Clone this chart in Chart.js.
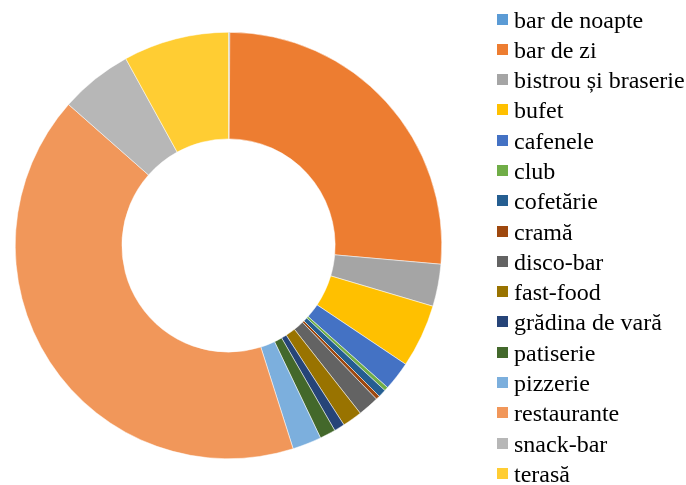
<!DOCTYPE html>
<html>
<head>
<meta charset="utf-8">
<script src="https://cdn.jsdelivr.net/npm/chart.js@4"></script>
<style>
  html, body { margin: 0; padding: 0; background: #fff; }
  #wrap { position: relative; width: 686px; height: 485px; }
  #chart { position: absolute; left: 0; top: 0; }
  #legend { position: absolute; left: 0; top: 0; width: 686px; height: 485px; pointer-events: none; color: #000; }
  .box { position: absolute; width: 11px; height: 11px; }
  .lbl { position: absolute; white-space: nowrap; line-height: 30px;
    font-family: 'Liberation Serif', 'Times New Roman', serif; font-size: 24px; }
</style>
</head>
<body>
<div id="wrap">
  <canvas id="chart" width="686" height="485"></canvas>
  <div id="legend"></div>
</div>
<script>
// categorii (tipuri de unități)
const categories = [
  'bar de noapte', 'bar de zi', 'bistrou și braserie', 'bufet', 'cafenele', 'club',
  'cofetărie', 'cramă', 'disco-bar', 'fast-food', 'grădina de vară', 'patiserie',
  'pizzerie', 'restaurante', 'snack-bar', 'terasă'
];

// ponderi (%)
const shares = [0.1, 26.3, 3.2, 4.8, 2.2, 0.3, 0.6, 0.3, 1.6, 1.5, 0.8, 1.2, 2.2, 41.4, 5.5, 8.0];

const colors = [
  '#5B9BD5', '#ED7D31', '#A5A5A5', '#FFC000', '#4472C4', '#70AD47',
  '#255E91', '#9E480E', '#636363', '#997300', '#264478', '#43682B',
  '#7CAFDD', '#F1975A', '#B7B7B7', '#FFCD33'
];

const ctx = document.getElementById('chart').getContext('2d');
const chart = new Chart(ctx, {
  type: 'doughnut',
  data: {
    labels: categories,
    datasets: [{
      data: shares,
      backgroundColor: colors,
      borderColor: '#ffffff',
      borderWidth: 0.5
    }]
  },
  options: {
    responsive: false,
    animation: false,
    cutout: '50%',
    layout: {
      padding: { left: 15, top: 32, right: 244, bottom: 26 }
    },
    plugins: {
      legend: { display: false },
      tooltip: { enabled: false }
    }
  }
});

// legenda (HTML), construită din aceleași liste
const legend = document.getElementById('legend');
const rowPitch = 30.29;
categories.forEach((name, i) => {
  const box = document.createElement('div');
  box.className = 'box';
  box.style.left = '497px';
  box.style.top = (13.5 + i * rowPitch) + 'px';
  box.style.background = colors[i];
  legend.appendChild(box);

  const lbl = document.createElement('div');
  lbl.className = 'lbl';
  lbl.style.left = '514px';
  lbl.style.top = (4.5 + i * rowPitch) + 'px';
  lbl.style.fontFamily = "'Liberation Serif', serif";
  lbl.textContent = name;
  legend.appendChild(lbl);
});
</script>
</body>
</html>
